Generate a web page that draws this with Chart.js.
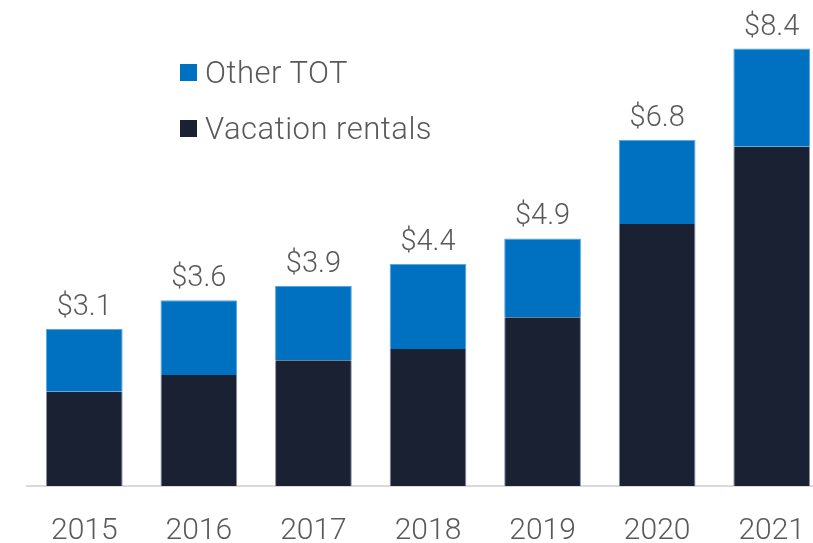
<!DOCTYPE html>
<html>
<head>
<meta charset="utf-8">
<script src="https://cdn.jsdelivr.net/npm/chart.js@4/dist/chart.umd.min.js"></script>
<style>
    html, body { margin: 0; padding: 0; background: #fff; overflow: hidden; }
    #wrap { position: relative; width: 813px; height: 543px; overflow: hidden; }
    #box { position: absolute; left: 0; top: 0; width: 840px; height: 576px; }
    #legend {
        position: absolute; left: 180px; top: 44px;
        font-family: Roboto, "Noto Sans", sans-serif; font-weight: 300;
        font-size: 31px; letter-spacing: 0.5px; color: #595959;
    }
    .item { display: flex; align-items: center; height: 56px; }
    .sw { width: 17px; height: 17px; margin-right: 8px; }
</style>
</head>
<body>
<div id="wrap">
    <div id="box"><canvas id="chart"></canvas></div>
    <div id="legend"></div>
</div>
<script>
const years = ["2015", "2016", "2017", "2018", "2019", "2020", "2021"];
const vacationRentals = [1.84, 2.17, 2.46, 2.68, 3.30, 5.12, 6.63];
const otherTot = [1.23, 1.46, 1.45, 1.66, 1.54, 1.65, 1.92];
const totalLabels = ["$3.1", "$3.6", "$3.9", "$4.4", "$4.9", "$6.8", "$8.4"];

const textColour = "#595959";
const darkColour = "#1a2133";
const blueColour = "#0070c0";

// legend built as html, other series listed first
const legendItems = [
    { label: "Other TOT", colour: blueColour },
    { label: "Vacation rentals", colour: darkColour },
];
const legendBox = document.getElementById("legend");
legendItems.forEach((it) => {
    const row = document.createElement("div");
    row.className = "item";
    row.innerHTML = `<div class="sw" style="background:${it.colour}"></div><span>${it.label}</span>`;
    legendBox.appendChild(row);
});

// total labels above each stack
const totalsPlugin = {
    id: "totals",
    afterDatasetsDraw(chart) {
        const { ctx } = chart;
        const top = chart.getDatasetMeta(1);
        ctx.save();
        ctx.font = "300 29px Roboto";
        ctx.fillStyle = textColour;
        ctx.textAlign = "center";
        ctx.textBaseline = "alphabetic";
        top.data.forEach((bar, i) => {
            ctx.fillText(totalLabels[i], bar.x, bar.y - 14);
        });
        ctx.restore();
    },
};

new Chart(document.getElementById("chart"), {
    type: "bar",
    data: {
        labels: years,
        datasets: [
            {
                label: "Vacation rentals",
                data: vacationRentals,
                backgroundColor: darkColour,
                borderColor: "#8a93a6",
                borderWidth: { left: 1, right: 1, top: 0, bottom: 0 },
            },
            {
                label: "Other TOT",
                data: otherTot,
                backgroundColor: blueColour,
                borderColor: "#5aa7de",
                borderWidth: 1,
            },
        ],
    },
    options: {
        responsive: true,
        maintainAspectRatio: false,
        animation: false,
        layout: { padding: { left: 27, right: 11, top: 0, bottom: 0 } },
        datasets: { bar: { categoryPercentage: 1, barPercentage: 0.67 } },
        scales: {
            x: {
                stacked: true,
                grid: { display: false, drawTicks: false },
                border: { color: "#d9d9d9", width: 2 },
                ticks: {
                    color: textColour,
                    padding: 27,
                    font: { family: "Roboto", size: 30, weight: 300 },
                },
            },
            y: {
                stacked: true,
                display: false,
                min: 0,
                max: 9.5,
            },
        },
        plugins: {
            legend: { display: false },
            tooltip: { enabled: false },
        },
    },
    plugins: [totalsPlugin],
});
</script>
</body>
</html>
